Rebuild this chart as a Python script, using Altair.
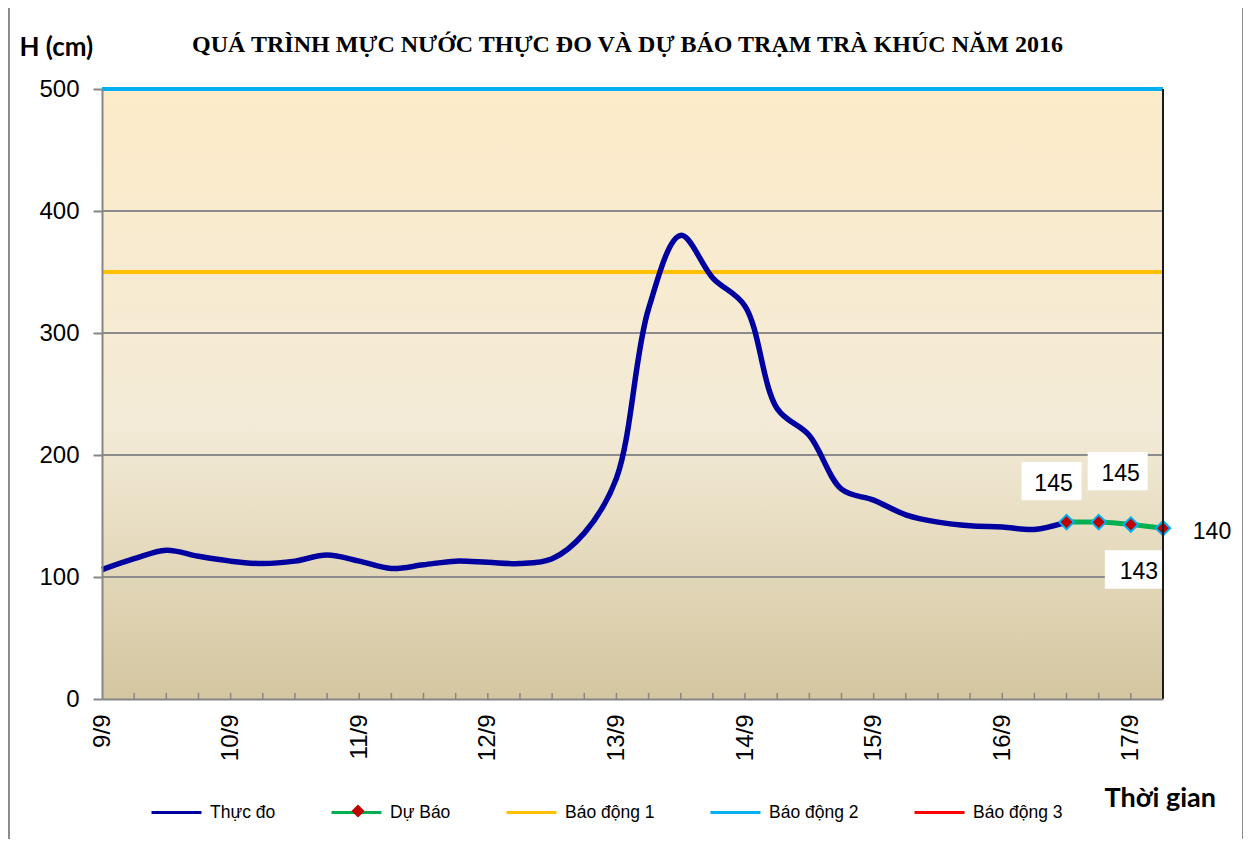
import altair as alt
import pandas as pd

# ---------------- data ----------------
day_labels = ['9/9', '10/9', '11/9', '12/9', '13/9', '14/9', '15/9', '16/9', '17/9']
steps_per_day = 4  # 6-hourly observations
observed = [106, 115, 122, 117, 113, 111, 113, 118, 113, 107, 110, 113, 112, 111, 115,
            136, 181, 320, 380, 345, 322, 238, 216, 172, 163, 151, 145, 142, 141, 139, 145]
forecast_start = 30
forecast = [145, 145, 143, 140]
alarm_names = ['Báo động 1', 'Báo động 2']
alarm_values = [350, 500]
grid_values = [100, 200, 300, 400]
y_ticks = [0, 100, 200, 300, 400, 500]
series_names = ['Thực đo', 'Dự Báo', 'Báo động 1', 'Báo động 2', 'Báo động 3']
series_colors = ['#0000A0', '#00B050', '#FFC000', '#00B0F0', '#FF0000']

n_points = forecast_start + len(forecast)
t_max = n_points - 1

obs_df = pd.DataFrame({'t': list(range(len(observed))), 'h': observed, 'series': 'Thực đo'})
fc_df = pd.DataFrame({'t': list(range(forecast_start, n_points)), 'h': forecast,
                      'series': 'Dự Báo', 'marker': 'dubao'})
alarm_df = pd.DataFrame({'h': alarm_values, 'series': alarm_names})
grid_df = pd.DataFrame({'h': grid_values})
tick_df = pd.DataFrame({'t': list(range(1, t_max)), 'h': 0, 'h1': 5})
edge_df = pd.DataFrame({'t': [t_max], 'h': [0], 'h1': [500]})
one = pd.DataFrame({'a': [0]})

label_js = '[' + ','.join("'%s'" % d for d in day_labels) + ']'

x_enc = alt.X('t:Q',
              scale=alt.Scale(domain=[0, t_max], nice=False, zero=False),
              axis=alt.Axis(values=list(range(0, t_max, steps_per_day)),
                            labelExpr=label_js + '[datum.value / %d]' % steps_per_day,
                            labelAngle=270, labelFontSize=24, labelFont='Liberation Sans',
                            labelColor='#000000', labelPadding=15, ticks=False,
                            domainColor='#868686', domainWidth=2, grid=False, zindex=1,
                            title='Thời gian', titleFont='Lato', titleFontSize=27,
                            titleFontWeight='bold', titleColor='#000000', titleAngle=0,
                            titleX=1002, titleY=107, titleAlign='left',
                            titleBaseline='alphabetic'))
y_enc = alt.Y('h:Q',
              scale=alt.Scale(domain=[0, 500], nice=False),
              axis=alt.Axis(values=y_ticks, labelFontSize=24, labelFont='Liberation Sans',
                            labelColor='#000000', labelPadding=14, tickSize=9,
                            tickColor='#868686', tickWidth=2, domainColor='#868686',
                            domainWidth=2, grid=False, zindex=1,
                            title='H (cm)', titleFont='Lato', titleFontSize=26,
                            titleFontWeight='bold', titleColor='#000000', titleAngle=0,
                            titleX=-83, titleY=-34, titleAlign='left',
                            titleBaseline='alphabetic'))

color_enc = alt.Color('series:N',
                      scale=alt.Scale(domain=series_names, range=series_colors),
                      legend=alt.Legend(orient='none', legendX=48, legendY=697,
                                        direction='horizontal', title=None,
                                        symbolType='stroke', symbolSize=2500,
                                        symbolStrokeWidth=3, labelFontSize=17.5,
                                        labelFont='Liberation Sans', labelColor='#000000',
                                        labelOffset=7, columnPadding=49, padding=0,
                                        labelLimit=0))

background = alt.Chart(one).mark_rect(
    fill=alt.LinearGradient(gradient='linear',
                            stops=[alt.GradientStop(color='#FDEBC9', offset=0),
                                   alt.GradientStop(color='#F3EBD7', offset=0.55),
                                   alt.GradientStop(color='#D4C6A0', offset=1)],
                            x1=0, x2=0, y1=0, y2=1)
).encode(x=alt.value(0), x2=alt.value('width'), y=alt.value(0), y2=alt.value('height'))

grid = alt.Chart(grid_df).mark_rule(color='#8C8C8C', strokeWidth=2).encode(y=y_enc)

minor_ticks = alt.Chart(tick_df).mark_rule(color='#868686', strokeWidth=1.5).encode(
    x=x_enc, y=y_enc, y2='h1:Q')

alarms = alt.Chart(alarm_df).mark_rule(strokeWidth=4).encode(y=y_enc, color=color_enc)

obs_line = alt.Chart(obs_df).mark_line(strokeWidth=5.5, interpolate='catmull-rom').encode(
    x=x_enc, y=y_enc, color=color_enc)

fc_line = alt.Chart(fc_df).mark_line(strokeWidth=5, interpolate='catmull-rom').encode(
    x=x_enc, y=y_enc, color=color_enc)

fc_points = alt.Chart(fc_df).mark_point(filled=True, fill='#C00000', stroke='#00B0F0',
                                         strokeWidth=2, size=210, opacity=1).encode(
    x=x_enc, y=y_enc,
    shape=alt.Shape('marker:N', scale=alt.Scale(domain=['dubao'], range=['diamond']),
                    legend=alt.Legend(orient='none', legendX=248, legendY=714, title=None,
                                      labelExpr="''", symbolSize=170,
                                      symbolFillColor='#C00000', symbolStrokeColor='#00B0F0',
                                      symbolStrokeWidth=2, padding=0)))

right_edge = alt.Chart(edge_df).mark_rule(color='#1A1A1A', strokeWidth=2).encode(
    x=x_enc, y=y_enc, y2='h1:Q')

box_shape = 'M-1,-0.64L1,-0.64L1,0.64L-1,0.64Z'
label_styles = [
    dict(box=(-15, -41), text=(-13, -38)),
    dict(box=(19, -51), text=(22, -48)),
    dict(box=(4, 45), text=(8, 47)),
    dict(box=None, text=(49, 4)),
]
label_layers = []
for k, st in enumerate(label_styles):
    base = alt.Chart(fc_df).transform_filter(alt.datum.t == forecast_start + k)
    if st['box'] is not None:
        label_layers.append(base.mark_point(shape=box_shape, filled=True, fill='white',
                                            strokeWidth=0, size=3600, opacity=1,
                                            xOffset=st['box'][0], yOffset=st['box'][1]
                                            ).encode(x=x_enc, y=y_enc))
    label_layers.append(base.mark_text(fontSize=23, font='Liberation Sans', color='#000000',
                                       align='center', baseline='middle',
                                       dx=st['text'][0], dy=st['text'][1]
                                       ).encode(x=x_enc, y=y_enc, text='h:Q'))

frame = alt.Chart(pd.DataFrame({'k': ['l', 'r']})).mark_rule(color='#8C8C8C', strokeWidth=2)
frame_left = frame.transform_filter(alt.datum.k == 'l').encode(
    x=alt.value(-93), y=alt.value(-89), y2=alt.value(760))
frame_right = frame.transform_filter(alt.datum.k == 'r').encode(
    x=alt.value(1141), y=alt.value(-89), y2=alt.value(760))

chart = alt.layer(
    background, grid, minor_ticks, alarms, obs_line, fc_line, fc_points,
    *label_layers, right_edge, frame_left, frame_right
).properties(
    width=1061, height=610,
    title=alt.TitleParams('QUÁ TRÌNH MỰC NƯỚC THỰC ĐO VÀ DỰ BÁO TRẠM TRÀ KHÚC NĂM 2016',
                          font='Liberation Serif', fontSize=24, fontWeight='bold',
                          color='#000000', anchor='middle', offset=0, dy=58, dx=-5),
    autosize=alt.AutoSizeParams(type='none'),
    padding={'left': 94, 'top': 81, 'right': 80, 'bottom': 140},
    background='white'
).configure_view(stroke=None)

chart.save('out.html', embed_options={'renderer': 'svg', 'actions': False})
